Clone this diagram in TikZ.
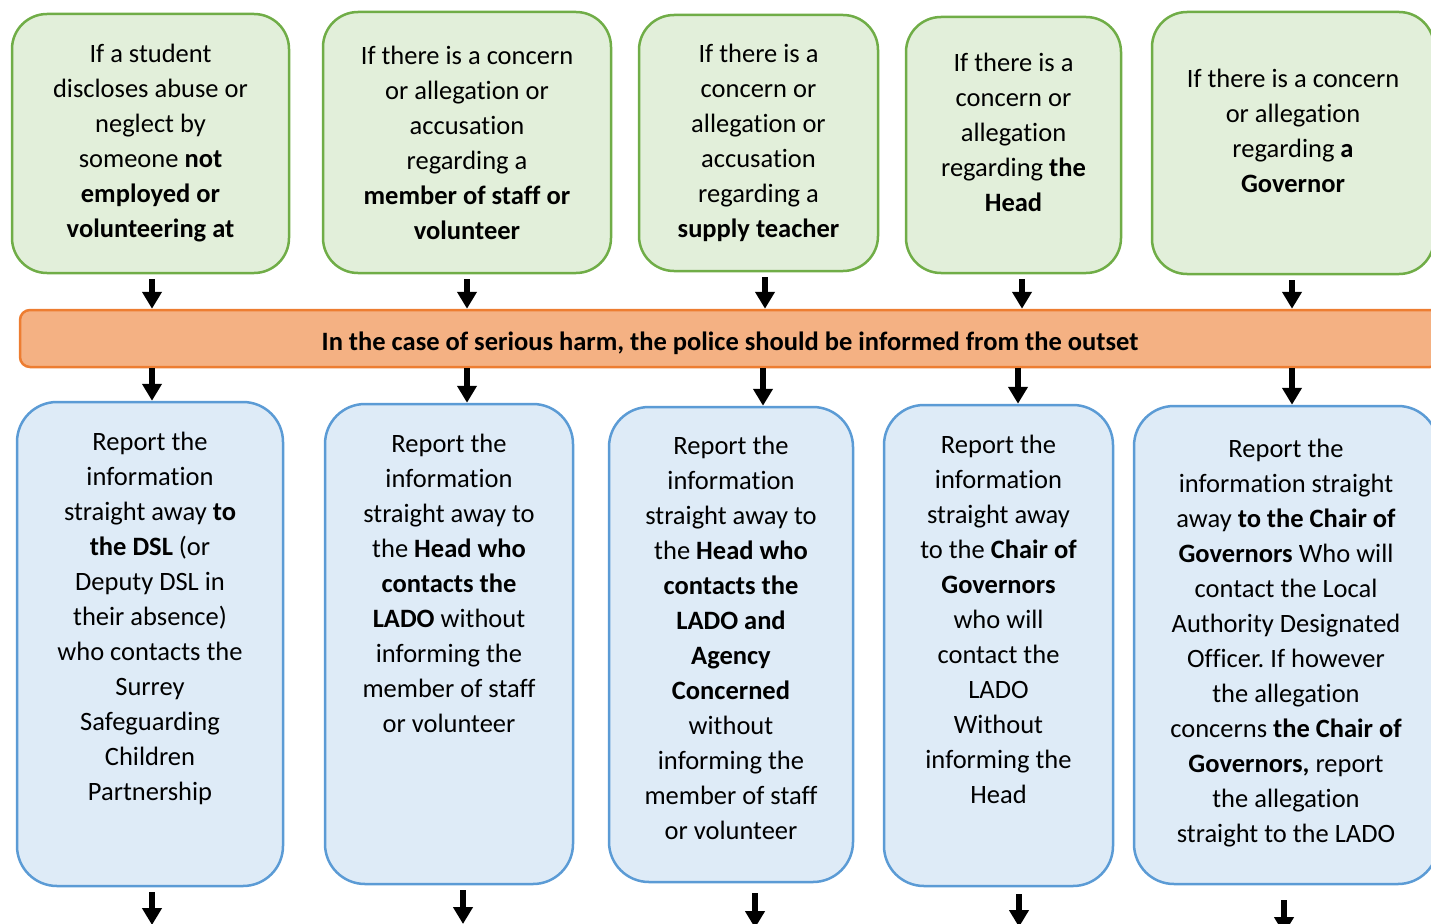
\documentclass[tikz,border=0pt]{standalone}
\usepackage{fontspec}
\setmainfont[Ligatures=NoCommon]{Carlito}
\usetikzlibrary{arrows.meta}
\usetikzlibrary{calc}

\definecolor{gfill}{HTML}{E2EFDA}
\definecolor{gline}{HTML}{70AD47}
\definecolor{bfill}{HTML}{DEEBF7}
\definecolor{bline}{HTML}{5B9BD5}
\definecolor{ofill}{HTML}{F4B183}
\definecolor{oline}{HTML}{ED7D31}

\newcommand{\boxfont}{\fontsize{26.5}{35}\selectfont\frenchspacing}

\tikzset{
  gbox/.style = {draw=gline, fill=gfill, line width=2.5pt, rounded corners=35pt,
                 align=center, font=\boxfont, inner sep=0pt},
  bbox/.style = {draw=bline, fill=bfill, line width=2.5pt, rounded corners=40pt,
                 align=center, font=\boxfont, inner sep=0pt},
  harmbar/.style = {draw=oline, fill=ofill, line width=2.5pt, rounded corners=10pt,
                 font=\boxfont\bfseries, inner sep=0pt},
  arr/.style = {line width=6.5pt, -{Triangle[width=19pt,length=17pt]}}
}

\begin{document}
\begin{tikzpicture}[x=1pt, y=-1pt]
            \useasboundingbox (0,0) rectangle (1431,923);
            \clip (0,0) rectangle (1431,923);

            % who the concern is about
            \node[gbox, minimum width=277pt, minimum height=259pt] (g1) at (150.5,143.5)
                {If a student\\discloses abuse or\\neglect by\\someone \textbf{not}\\\textbf{employed or}\\\textbf{volunteering at}};
            \node[gbox, minimum width=288pt, minimum height=261pt] (g2) at (467,142.5)
                {If there is a concern\\or allegation or\\accusation\\regarding a\\\textbf{member of staff or}\\\textbf{volunteer}};
            \node[gbox, minimum width=239pt, minimum height=256pt] (g3) at (758.5,143)
                {If there is a\\concern or\\allegation or\\accusation\\regarding a\\\textbf{supply teacher}};
            \node[gbox, minimum width=215pt, minimum height=256pt, text depth=25pt] (g4) at (1013.5,145)
                {If there is a\\concern or\\allegation\\regarding \textbf{the}\\\textbf{Head}};
            \node[gbox, minimum width=282pt, minimum height=262pt, text depth=24pt] (g5) at (1293,143)
                {If there is a concern\\or allegation\\regarding \textbf{a}\\\textbf{Governor}};

            % police
            \node[harmbar, minimum width=1420pt, minimum height=57pt, text height=28pt] (bar) at (730,338.5)
                {In the case of serious harm, the police should be informed from the outset};

            % who to report to
            \node[bbox, minimum width=266pt, minimum height=484pt, text depth=55pt] (b1) at (150,644)
                {Report the\\information\\straight away \textbf{to}\\\textbf{the DSL} (or\\Deputy DSL in\\their absence)\\who contacts the\\Surrey\\Safeguarding\\Children\\Partnership};
            \node[bbox, minimum width=248pt, minimum height=480pt, text depth=121pt] (b2) at (449,644)
                {Report the\\information\\straight away to\\the \textbf{Head who}\\\textbf{contacts the}\\\textbf{LADO} without\\informing the\\member of staff\\or volunteer};
            \node[bbox, minimum width=244pt, minimum height=475pt, text depth=13pt] (b3) at (731,644.5)
                {Report the\\information\\straight away to\\the \textbf{Head who}\\\textbf{contacts the}\\\textbf{LADO and}\\\textbf{Agency}\\\textbf{Concerned}\\without\\informing the\\member of staff\\or volunteer};
            \node[bbox, minimum width=229pt, minimum height=481pt, text depth=53pt] (b4) at (998.5,645.5)
                {Report the\\information\\straight away\\to the \textbf{Chair of}\\\textbf{Governors}\\who will\\contact the\\LADO\\Without\\informing the\\Head};
            \node[bbox, minimum width=304pt, minimum height=478pt, text depth=9pt] (b5) at (1286,645)
                {Report the\\information straight\\away \textbf{to the Chair of}\\\textbf{Governors} Who will\\contact the Local\\Authority Designated\\Officer. If however\\the allegation\\concerns \textbf{the Chair of}\\\textbf{Governors,} report\\the allegation\\straight to the LADO};

            % free ends at the foot of the picture
            \coordinate (e1) at (152,925);
            \coordinate (e2) at (463,924);
            \coordinate (e3) at (755,928);
            \coordinate (e4) at (1019,927);
            \coordinate (e5) at (1284,934);

            \draw[arr, shorten <=5pt] ([xshift=1.5pt]g1.south) -- ([xshift=1.5pt]g1.south |- bar.north);
            \draw[arr, shorten <=5pt] (g2.south) -- (g2.south |- bar.north);
            \draw[arr, shorten <=5pt] ([xshift=6.5pt]g3.south) -- ([xshift=6.5pt]g3.south |- bar.north);
            \draw[arr, shorten <=5pt] ([xshift=8.5pt]g4.south) -- ([xshift=8.5pt]g4.south |- bar.north);
            \draw[arr, shorten <=5pt] ([xshift=-1pt]g5.south) -- ([xshift=-1pt]g5.south |- bar.north);

            \draw[arr] ([xshift=1.5pt]g1.south |- bar.south) -- ([xshift=1.5pt]g1.south |- b1.north);
            \draw[arr] (g2.south |- bar.south) -- (g2.south |- b2.north);
            \draw[arr] ([xshift=4.5pt]g3.south |- bar.south) -- ([xshift=4.5pt]g3.south |- b3.north);
            \draw[arr] ([xshift=4.5pt]g4.south |- bar.south) -- ([xshift=4.5pt]g4.south |- b4.north);
            \draw[arr] ([xshift=-1pt]g5.south |- bar.south) -- ([xshift=-1pt]g5.south |- b5.north);

            \draw[arr, shorten <=5pt] (b1.south -| e1) -- (e1);
            \draw[arr, shorten <=5pt] (b2.south -| e2) -- (e2);
            \draw[arr, shorten <=10pt] (b3.south -| e3) -- (e3);
            \draw[arr, shorten <=7pt] (b4.south -| e4) -- (e4);
            \draw[arr, shorten <=15pt] (b5.south -| e5) -- (e5);

        \end{tikzpicture}
\end{document}
